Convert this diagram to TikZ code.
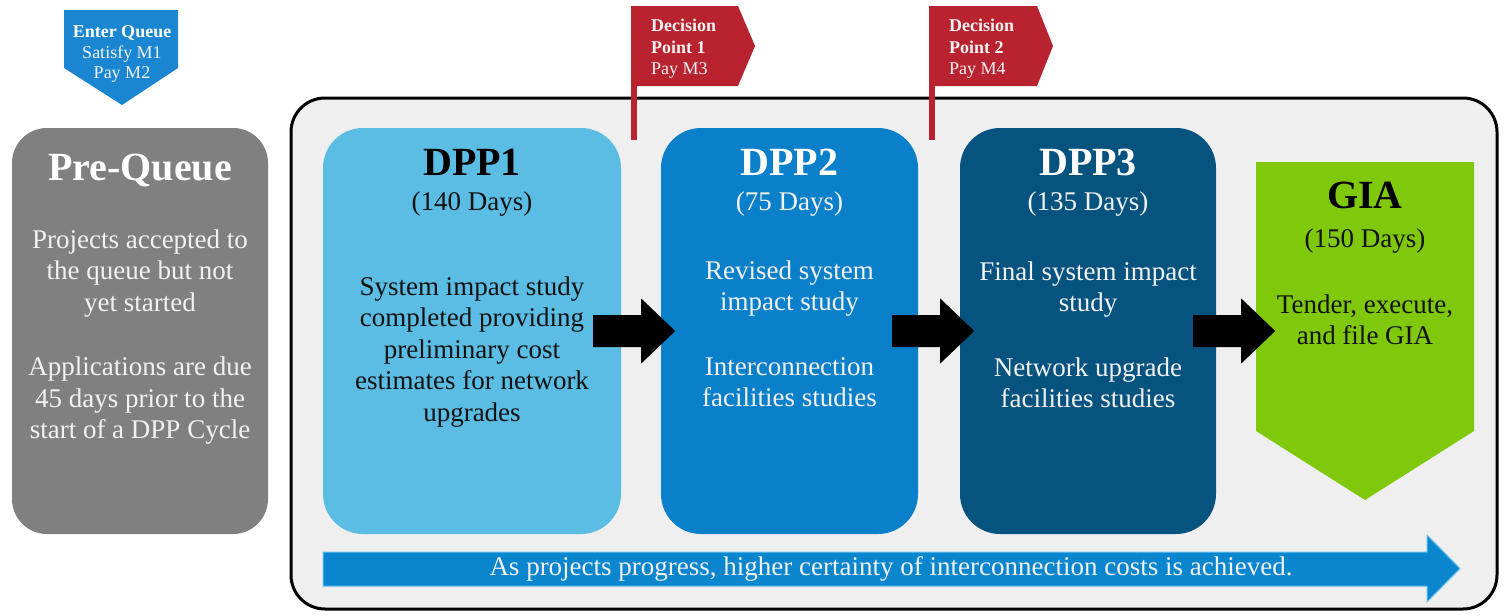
\documentclass[tikz,border=0pt]{standalone}
\usepackage{fontspec}
\setmainfont{Liberation Serif}
\usetikzlibrary{calc}

\definecolor{pregray}{HTML}{808080}
\definecolor{panel}{HTML}{EFEFEF}
\definecolor{dppone}{HTML}{5BBDE4}
\definecolor{dpptwo}{HTML}{0B80CA}
\definecolor{dppthree}{HTML}{075380}
\definecolor{giagreen}{HTML}{80C80C}
\definecolor{flagred}{HTML}{B8232F}
\definecolor{queueblue}{HTML}{1A86D1}
\definecolor{progblue}{HTML}{0A86CF}
\definecolor{progedge}{HTML}{6CC0EE}
\definecolor{paletxt}{HTML}{F2F2F2}
\definecolor{darktxt}{HTML}{111111}

\newcommand{\fsz}[2]{\fontsize{#1}{#2}\selectfont}
% black block arrow starting at #1, pointing right
\newcommand{\blockarrow}[1]{%
  \fill[black] ($#1+(0,-16)$) -- ++(48,0) -- ++(0,-16.5) -- ++(34,32.5)
    -- ++(-34,32.5) -- ++(0,-16.5) -- ++(-48,0) -- cycle;}

\begin{document}
\begin{tikzpicture}[x=1pt,y=-1pt,
  phase/.style={rectangle, rounded corners=40pt, inner sep=0pt, draw=none,
                minimum height=406pt},
  ttl/.style={font=\bfseries\fsz{40}{44}, anchor=base, inner sep=0pt},
  days/.style={font=\fsz{27}{31.5}, anchor=base, inner sep=0pt},
  body/.style={font=\fsz{27}{31.5}, align=center, inner sep=0pt},
  flagtxt/.style={font=\fsz{18}{21.5}, align=left, anchor=west,
                  inner sep=0pt, text=paletxt},
]
\useasboundingbox (0,0) rectangle (1508,616);

% outer panel holding the study phases
\node[rectangle, rounded corners=34pt, draw=black, line width=3pt,
      fill=panel, minimum width=1206pt, minimum height=511pt,
      inner sep=0pt] (panel) at (894,353.5) {};

% pre-queue box
\node[phase, rounded corners=35pt, fill=pregray, minimum width=256pt]
  (pre) at (140,331) {};
\node[ttl, text=white] (pretitle) at (140,180) {Pre-Queue};
\node[body, text=paletxt] (pretext) at (140,337)
  {Projects accepted to\\the queue but not\\yet started\\[33pt]
   Applications are due\\45 days prior to the\\start of a DPP Cycle};

% enter-queue marker
\fill[queueblue] (64,10) -- (178,10) -- (178,68) -- (122,105) -- (64,68) -- cycle;
\node[font=\fsz{18}{20.5}, align=center, inner sep=0pt, text=paletxt]
  (enter) at (122,54) {\textcolor{white}{\textbf{Enter Queue}}\\Satisfy M1\\Pay M2};

% study phases
\node[phase, fill=dppone, minimum width=298pt] (dpp1) at (472,331) {};
\node[ttl, text=black] (dpp1title) at (472,175) {DPP1};
\node[days, text=darktxt] (dpp1days) at (472,210) {(140 Days)};
\node[body, text=darktxt] (dpp1text) at (472,352)
  {System impact study\\completed providing\\preliminary cost\\estimates for network\\upgrades};

\node[phase, fill=dpptwo, minimum width=257pt] (dpp2) at (789.5,331) {};
\node[ttl, text=white] (dpp2title) at (789.5,175) {DPP2};
\node[days, text=paletxt] (dpp2days) at (789.5,210) {(75 Days)};
\node[body, text=paletxt] (dpp2text) at (789.5,334)
  {Revised system\\impact study\\[33pt]Interconnection\\facilities studies};

\node[phase, fill=dppthree, minimum width=256pt] (dpp3) at (1088,331) {};
\node[ttl, text=white] (dpp3title) at (1088,175) {DPP3};
\node[days, text=paletxt] (dpp3days) at (1088,210) {(135 Days)};
\node[body, text=paletxt] (dpp3text) at (1088,335)
  {Final system impact\\study\\[33pt]Network upgrade\\facilities studies};

% GIA pentagon
\fill[giagreen] (1256,162) -- (1474,162) -- (1474,431) -- (1365,500) -- (1256,431) -- cycle;
\coordinate (gia) at (1256,331);
\node[ttl, text=black] (giatitle) at (1365,208) {GIA};
\node[days, text=darktxt] (giadays) at (1365,247) {(150 Days)};
\node[body, text=darktxt] (giatext) at (1365,320) {Tender, execute,\\and file GIA};

% transitions between phases
\blockarrow{(dpp1.east)+(-28,0)}
\blockarrow{(dpp2.east)+(-26,0)}
\blockarrow{(dpp3.east)+(-23,0)}

% decision-point flags
\fill[flagred] (631,6) rectangle (637,140);
\fill[flagred] (631,6) -- (738,6) -- (755,46) -- (738,86) -- (631,86) -- cycle;
\node[flagtxt] (dp1) at (651,49) {\textbf{Decision}\\\textbf{Point 1}\\Pay M3};

\fill[flagred] (929,6) rectangle (935,140);
\fill[flagred] (929,6) -- (1037,6) -- (1053,46) -- (1037,86) -- (929,86) -- cycle;
\node[flagtxt] (dp2) at (949,49) {\textbf{Decision}\\\textbf{Point 2}\\Pay M4};

% progress arrow along the bottom
\filldraw[fill=progblue, draw=progedge, line width=1pt]
  (323,552) -- (1427,552) -- (1427,535) -- (1460,568.5) -- (1427,602)
  -- (1427,586) -- (323,586) -- cycle;
\node[font=\fsz{27}{31.5}, text=paletxt, inner sep=0pt] (progress) at (891,569)
  {As projects progress, higher certainty of interconnection costs is achieved.};
\end{tikzpicture}
\end{document}
